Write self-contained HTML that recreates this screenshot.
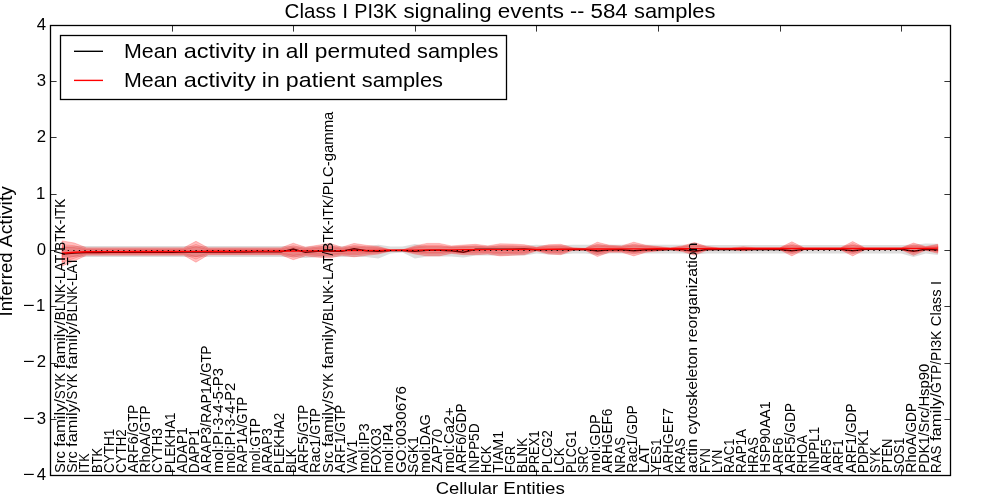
<!DOCTYPE html>
<html><head><meta charset="utf-8"><title>Class I PI3K signaling events</title>
<style>html,body{margin:0;padding:0;background:#fff;overflow:hidden}svg{display:block;will-change:transform}text{font-family:"Liberation Sans",sans-serif;fill:#000}</style></head><body>
<svg width="1000" height="500" viewBox="0 0 1000 500">
<rect width="1000" height="500" fill="#fff"/>
<polygon points="62.16,245.9 74.32,245.9 86.49,245.9 98.65,245.9 110.81,245.9 122.97,245.9 135.14,245.9 147.3,245.9 159.46,245.9 171.62,245.9 183.78,245.9 195.95,245.9 208.11,245.9 220.27,245.9 232.43,245.9 244.59,245.9 256.76,245.9 268.92,245.9 281.08,245.9 293.24,246.15 305.41,246.65 317.57,246.15 329.73,246.15 341.89,246.15 354.05,246.15 366.22,246.15 378.38,244.65 390.54,246.55 402.7,246.55 414.86,244.05 427.03,246.15 439.19,246.15 451.35,246.15 463.51,245.65 475.68,245.65 487.84,245.65 500,245.65 512.16,245.65 524.32,245.65 536.49,244.65 548.65,245.15 560.81,245.15 572.97,244.65 585.14,244.65 597.3,244.65 609.46,244.65 621.62,244.65 633.78,244.65 645.95,244.65 658.11,244.65 670.27,244.65 682.43,244.65 694.59,244.65 706.76,244.95 718.92,244.95 731.08,244.95 743.24,244.95 755.41,244.95 767.57,244.95 779.73,244.95 791.89,244.95 804.05,244.95 816.22,244.95 828.38,244.95 840.54,244.95 852.7,244.95 864.86,244.95 877.03,244.95 889.19,244.95 901.35,244.95 913.51,244.65 925.68,243.4 937.84,243.65 937.84,254.9 925.68,253.5 913.51,257 901.35,253.5 889.19,253.5 877.03,253.5 864.86,253.5 852.7,253.5 840.54,253.5 828.38,253.5 816.22,253.5 804.05,253.5 791.89,253.5 779.73,253.5 767.57,253.5 755.41,253.5 743.24,253.5 731.08,253.5 718.92,253.5 706.76,253.5 694.59,254.5 682.43,253.5 670.27,253.5 658.11,253.5 645.95,253.5 633.78,253.5 621.62,253.5 609.46,253.5 597.3,255 585.14,253.6 572.97,253.6 560.81,254.5 548.65,254.5 536.49,253.5 524.32,255.5 512.16,255.5 500,255.5 487.84,255.5 475.68,255.5 463.51,257.4 451.35,256.5 439.19,256.5 427.03,256.5 414.86,258.6 402.7,252.4 390.54,253.5 378.38,258.5 366.22,257 354.05,257 341.89,257 329.73,257 317.57,257 305.41,258 293.24,257 281.08,257 268.92,257 256.76,257 244.59,257 232.43,257 220.27,257 208.11,257 195.95,257 183.78,257 171.62,257 159.46,257 147.3,257 135.14,257 122.97,257 110.81,257 98.65,257 86.49,257 74.32,257 62.16,257" fill="#808080" fill-opacity="0.27"/>
<polyline points="62.16,254 74.32,253.1 86.49,252.5 98.65,252.46 110.81,252.42 122.97,252.38 135.14,252.34 147.3,252.29 159.46,252.25 171.62,252.21 183.78,252.17 195.95,252.13 208.11,252.09 220.27,252.05 232.43,252.01 244.59,251.96 256.76,251.92 268.92,251.88 281.08,251.84 293.24,249 305.41,252.3 317.57,251.42 329.73,251.33 341.89,251.24 354.05,248.75 366.22,250.76 378.38,251.3 390.54,250.58 402.7,250.49 414.86,251.4 427.03,250.33 439.19,250.26 451.35,250.7 463.51,252.2 475.68,249.3 487.84,249.3 500,249.2 512.16,249.1 524.32,249 536.49,249.68 548.65,249.6 560.81,249.53 572.97,249.45 585.14,249.38 597.3,251 609.46,249.86 621.62,249.82 633.78,250.8 645.95,249.74 658.11,249.7 670.27,249.66 682.43,249.62 694.59,251.25 706.76,249.54 718.92,249.5 731.08,249.49 743.24,249.48 755.41,249.46 767.57,249.45 779.73,249.44 791.89,250.8 804.05,249.42 816.22,249.41 828.38,249.39 840.54,249.38 852.7,250.8 864.86,249.36 877.03,249.35 889.19,249.34 901.35,249.32 913.51,251.25 925.68,249.3 937.84,250" fill="none" stroke="#000" stroke-width="1.39"/>
<polygon points="62.16,240.9 74.32,243 86.49,247.8 98.65,247.8 110.81,247.8 122.97,247.8 135.14,247.8 147.3,247.8 159.46,247.8 171.62,247.8 183.78,247.8 195.95,241.3 208.11,247.8 220.27,247.8 232.43,247.8 244.59,247.8 256.76,247.8 268.92,247.8 281.08,247.8 293.24,243.2 305.41,247.2 317.57,245.3 329.73,243.4 341.89,247.2 354.05,243.4 366.22,245.3 378.38,246.55 390.54,249.8 402.7,249.8 414.86,245.9 427.03,243.4 439.19,243.4 451.35,245.9 463.51,245.05 475.68,244.3 487.84,245.9 500,243.8 512.16,244.05 524.32,244.7 536.49,247.2 548.65,244.7 560.81,244.3 572.97,247.8 585.14,248.3 597.3,242.2 609.46,245.3 621.62,245.9 633.78,242.2 645.95,245.3 658.11,246.55 670.27,247.8 682.43,245.9 694.59,242.55 706.76,246.55 718.92,247.8 731.08,247.8 743.24,246.8 755.41,247.8 767.57,247.8 779.73,247.8 791.89,241.8 804.05,247.8 816.22,247.8 828.38,247.8 840.54,247.8 852.7,241.55 864.86,247.8 877.03,247.8 889.19,247.8 901.35,247.8 913.51,243.05 925.68,246.55 937.84,244.3 937.84,253.3 925.68,250.3 913.51,255.3 901.35,249.8 889.19,249.8 877.03,249.8 864.86,249.8 852.7,255.9 840.54,249.8 828.38,249.8 816.22,249.8 804.05,249.8 791.89,255.9 779.73,249.8 767.57,249.8 755.41,249.8 743.24,250.8 731.08,249.8 718.92,249.8 706.76,250.3 694.59,255.3 682.43,251.55 670.27,249.8 658.11,250.9 645.95,252.2 633.78,255.9 621.62,252.2 609.46,252.2 597.3,256.55 585.14,250.3 572.97,250.3 560.81,254.7 548.65,254.05 536.49,250.9 524.32,254.7 512.16,255.3 500,255.9 487.84,254.05 475.68,254.7 463.51,254.7 451.35,253.4 439.19,255.9 427.03,255.9 414.86,254.05 402.7,251.1 390.54,251.1 378.38,254.05 366.22,255.3 354.05,256.8 341.89,255.3 329.73,258.05 317.57,257.2 305.41,255.9 293.24,259.7 281.08,254.9 268.92,254.9 256.76,254.9 244.59,254.9 232.43,254.9 220.27,254.9 208.11,254.9 195.95,262.2 183.78,255.3 171.62,255.3 159.46,255.3 147.3,255.3 135.14,255.3 122.97,255.3 110.81,255.3 98.65,255.3 86.49,255.3 74.32,260.9 62.16,265.9" fill="#f00" fill-opacity="0.25" stroke="#f00" stroke-opacity="0.3" stroke-width="0.7"/>
<polygon points="62.16,244.65 74.32,245.69 86.49,248.93 98.65,248.93 110.81,248.93 122.97,248.93 135.14,248.93 147.3,248.93 159.46,248.93 171.62,248.93 183.78,248.93 195.95,244.44 208.11,248.87 220.27,248.87 232.43,248.87 244.59,248.87 256.76,248.87 268.92,248.87 281.08,248.87 293.24,245.68 305.41,248.51 317.57,247.09 329.73,245.6 341.89,248.41 354.05,245.41 366.22,246.8 378.38,247.68 390.54,250 402.7,250 414.86,247.12 427.03,245.28 439.19,245.28 451.35,247.03 463.51,246.5 475.68,245.86 487.84,247.12 500,245.62 512.16,245.74 524.32,246.2 536.49,247.76 548.65,246.1 560.81,245.86 572.97,248.18 585.14,248.6 597.3,244.35 609.46,246.34 621.62,246.84 633.78,244.26 645.95,246.34 658.11,247.2 670.27,248.1 682.43,246.75 694.59,244.46 706.76,247.11 718.92,248.1 731.08,248.1 743.24,247.4 755.41,248.1 767.57,248.1 779.73,248.1 791.89,243.92 804.05,248.1 816.22,248.1 828.38,248.1 840.54,248.1 852.7,243.7 864.86,248.1 877.03,248.1 889.19,248.1 901.35,248.1 913.51,244.89 925.68,247.11 937.84,245.65 937.84,251.95 925.68,249.74 913.51,253.46 901.35,249.5 889.19,249.5 877.03,249.5 864.86,249.5 852.7,253.75 840.54,249.5 828.38,249.5 816.22,249.5 804.05,249.5 791.89,253.79 779.73,249.5 767.57,249.5 755.41,249.5 743.24,250.2 731.08,249.5 718.92,249.5 706.76,249.74 694.59,253.39 682.43,250.7 670.27,249.5 658.11,250.25 645.95,251.16 633.78,253.84 621.62,251.26 609.46,251.16 597.3,254.4 585.14,250 572.97,249.93 560.81,253.14 548.65,252.65 536.49,250.34 524.32,253.2 512.16,253.61 500,254.09 487.84,252.83 475.68,253.14 463.51,253.25 451.35,252.28 439.19,254.03 427.03,254.03 414.86,252.83 402.7,250.91 390.54,250.91 378.38,252.93 366.22,253.8 354.05,254.79 341.89,254.09 329.73,255.85 317.57,255.41 305.41,254.59 293.24,257.22 281.08,253.84 268.92,253.84 256.76,253.84 244.59,253.84 232.43,253.84 220.27,253.84 208.11,253.84 195.95,259.06 183.78,254.18 171.62,254.18 159.46,254.18 147.3,254.18 135.14,254.18 122.97,254.18 110.81,254.18 98.65,254.18 86.49,254.18 74.32,258.22 62.16,262.15" fill="#f00" fill-opacity="0.1" stroke="#f00" stroke-opacity="0.3" stroke-width="0.7"/>
<polygon points="62.16,247.4 74.32,247.65 86.49,249.75 98.65,249.75 110.81,249.75 122.97,249.75 135.14,249.75 147.3,249.75 159.46,249.75 171.62,249.75 183.78,249.75 195.95,246.73 208.11,249.65 220.27,249.65 232.43,249.65 244.59,249.65 256.76,249.65 268.92,249.65 281.08,249.65 293.24,247.49 305.41,249.46 317.57,248.39 329.73,247.21 341.89,249.31 354.05,246.88 366.22,247.9 378.38,248.5 390.54,250.14 402.7,250.14 414.86,248.02 427.03,246.65 439.19,246.65 451.35,247.85 463.51,247.56 475.68,247 487.84,248.02 500,246.95 512.16,246.98 524.32,247.3 536.49,248.16 548.65,247.13 560.81,247 572.97,248.45 585.14,248.82 597.3,245.93 609.46,247.09 621.62,247.54 633.78,245.76 645.95,247.09 658.11,247.68 670.27,248.32 682.43,247.37 694.59,245.87 706.76,247.53 718.92,248.32 731.08,248.32 743.24,247.84 755.41,248.32 767.57,248.32 779.73,248.32 791.89,245.47 804.05,248.32 816.22,248.32 828.38,248.32 840.54,248.32 852.7,245.28 864.86,248.32 877.03,248.32 889.19,248.32 901.35,248.32 913.51,246.24 925.68,247.53 937.84,246.64 937.84,250.96 925.68,249.33 913.51,252.12 901.35,249.28 889.19,249.28 877.03,249.28 864.86,249.28 852.7,252.17 840.54,249.28 828.38,249.28 816.22,249.28 804.05,249.28 791.89,252.23 779.73,249.28 767.57,249.28 755.41,249.28 743.24,249.76 731.08,249.28 718.92,249.28 706.76,249.33 694.59,251.99 682.43,250.08 670.27,249.28 658.11,249.77 645.95,250.41 633.78,252.34 621.62,250.56 609.46,250.41 597.3,252.82 585.14,249.78 572.97,249.65 560.81,252 548.65,251.62 536.49,249.94 524.32,252.1 512.16,252.38 500,252.75 487.84,251.93 475.68,252 463.51,252.19 451.35,251.45 439.19,252.65 427.03,252.65 414.86,251.93 402.7,250.76 390.54,250.76 378.38,252.1 366.22,252.7 354.05,253.32 341.89,253.19 329.73,254.24 317.57,254.11 305.41,253.64 293.24,255.41 281.08,253.05 268.92,253.05 256.76,253.05 244.59,253.05 232.43,253.05 220.27,253.05 208.11,253.05 195.95,256.77 183.78,253.35 171.62,253.35 159.46,253.35 147.3,253.35 135.14,253.35 122.97,253.35 110.81,253.35 98.65,253.35 86.49,253.35 74.32,256.25 62.16,259.4" fill="#f00" fill-opacity="0.1" stroke="#f00" stroke-opacity="0.3" stroke-width="0.7"/>
<polyline points="62.16,253.2 74.32,252.3 86.49,251.7 98.65,251.66 110.81,251.62 122.97,251.58 135.14,251.54 147.3,251.49 159.46,251.45 171.62,251.41 183.78,251.37 195.95,251.33 208.11,251.29 220.27,251.25 232.43,251.21 244.59,251.16 256.76,251.12 268.92,251.08 281.08,251.04 293.24,251 305.41,250.91 317.57,250.82 329.73,250.73 341.89,250.64 354.05,250.55 366.22,250.46 378.38,250.37 390.54,250.28 402.7,250.19 414.86,250.1 427.03,250.03 439.19,249.96 451.35,249.89 463.51,249.81 475.68,249.74 487.84,249.67 500,249.6 512.16,249.53 524.32,249.45 536.49,249.38 548.65,249.3 560.81,249.22 572.97,249.15 585.14,249.07 597.3,249 609.46,248.96 621.62,248.92 633.78,248.88 645.95,248.84 658.11,248.8 670.27,248.76 682.43,248.72 694.59,248.68 706.76,248.64 718.92,248.6 731.08,248.59 743.24,248.58 755.41,248.56 767.57,248.55 779.73,248.54 791.89,248.53 804.05,248.52 816.22,248.51 828.38,248.49 840.54,248.48 852.7,248.47 864.86,248.46 877.03,248.45 889.19,248.44 901.35,248.42 913.51,248.41 925.68,248.4 937.84,248.1" fill="none" stroke="#f00" stroke-width="1.39"/>
<line x1="62.16" y1="250.5" x2="937.84" y2="250.5" stroke="#000" stroke-width="1.15" stroke-dasharray="1.25 4.306"/>
<g font-size="14.65">
<text transform="translate(65.4 473) rotate(-90)"><tspan x="0" textLength="21.9" lengthAdjust="spacingAndGlyphs">Src</tspan> <tspan x="26.28" textLength="47.8" lengthAdjust="spacingAndGlyphs">family/</tspan><tspan x="74.08" textLength="26.15" lengthAdjust="spacingAndGlyphs">SYK</tspan> <tspan x="104.61" textLength="47.8" lengthAdjust="spacingAndGlyphs">family/</tspan><tspan x="152.42" textLength="69.83" lengthAdjust="spacingAndGlyphs">BLNK-LAT/</tspan><tspan x="222.24" textLength="52.06" lengthAdjust="spacingAndGlyphs">BTK-ITK</tspan></text>
<text transform="translate(77.4 473) rotate(-90)"><tspan x="0" textLength="21.73" lengthAdjust="spacingAndGlyphs">Src</tspan> <tspan x="26.08" textLength="47.44" lengthAdjust="spacingAndGlyphs">family/</tspan><tspan x="73.53" textLength="25.96" lengthAdjust="spacingAndGlyphs">SYK</tspan> <tspan x="103.83" textLength="47.44" lengthAdjust="spacingAndGlyphs">family/</tspan><tspan x="151.28" textLength="64.71" lengthAdjust="spacingAndGlyphs">BLNK-LAT</tspan></text>
<text transform="translate(89.4 473) rotate(-90)"><tspan x="0" textLength="19.64" lengthAdjust="spacingAndGlyphs">ITK</tspan></text>
<text transform="translate(102.4 473) rotate(-90)"><tspan x="0" textLength="25.21" lengthAdjust="spacingAndGlyphs">BTK</tspan></text>
<text transform="translate(114.4 473) rotate(-90)"><tspan x="0" textLength="44.3" lengthAdjust="spacingAndGlyphs">CYTH1</tspan></text>
<text transform="translate(126.4 473) rotate(-90)"><tspan x="0" textLength="43.67" lengthAdjust="spacingAndGlyphs">CYTH2</tspan></text>
<text transform="translate(138.4 473) rotate(-90)"><tspan x="0" textLength="40.87" lengthAdjust="spacingAndGlyphs">ARF6/</tspan><tspan x="40.87" textLength="27.29" lengthAdjust="spacingAndGlyphs">GTP</tspan></text>
<text transform="translate(150.4 473) rotate(-90)"><tspan x="0" textLength="40.63" lengthAdjust="spacingAndGlyphs">RhoA/</tspan><tspan x="40.63" textLength="26.88" lengthAdjust="spacingAndGlyphs">GTP</tspan></text>
<text transform="translate(162.4 473) rotate(-90)"><tspan x="0" textLength="44.9" lengthAdjust="spacingAndGlyphs">CYTH3</tspan></text>
<text transform="translate(175.4 473) rotate(-90)"><tspan x="0" textLength="60.6" lengthAdjust="spacingAndGlyphs">PLEKHA1</tspan></text>
<text transform="translate(187.4 473) rotate(-90)"><tspan x="0" textLength="45.73" lengthAdjust="spacingAndGlyphs">ADAP1</tspan></text>
<text transform="translate(199.4 473) rotate(-90)"><tspan x="0" textLength="43.89" lengthAdjust="spacingAndGlyphs">DAPP1</tspan></text>
<text transform="translate(211.4 473) rotate(-90)"><tspan x="0" textLength="50.03" lengthAdjust="spacingAndGlyphs">ARAP3/</tspan><tspan x="50.03" textLength="50.16" lengthAdjust="spacingAndGlyphs">RAP1A/</tspan><tspan x="100.19" textLength="27.21" lengthAdjust="spacingAndGlyphs">GTP</tspan></text>
<text transform="translate(223.4 473) rotate(-90)"><tspan x="0" textLength="105.05" lengthAdjust="spacingAndGlyphs">mol:PI-3-4-5-P3</tspan></text>
<text transform="translate(235.4 473) rotate(-90)"><tspan x="0" textLength="90.2" lengthAdjust="spacingAndGlyphs">mol:PI-3-4-P2</tspan></text>
<text transform="translate(247.4 473) rotate(-90)"><tspan x="0" textLength="49.34" lengthAdjust="spacingAndGlyphs">RAP1A/</tspan><tspan x="49.34" textLength="26.77" lengthAdjust="spacingAndGlyphs">GTP</tspan></text>
<text transform="translate(260.4 473) rotate(-90)"><tspan x="0" textLength="55.07" lengthAdjust="spacingAndGlyphs">mol:GTP</tspan></text>
<text transform="translate(272.4 473) rotate(-90)"><tspan x="0" textLength="44.94" lengthAdjust="spacingAndGlyphs">ARAP3</tspan></text>
<text transform="translate(284.4 473) rotate(-90)"><tspan x="0" textLength="60.17" lengthAdjust="spacingAndGlyphs">PLEKHA2</tspan></text>
<text transform="translate(296.4 473) rotate(-90)"><tspan x="0" textLength="24.4" lengthAdjust="spacingAndGlyphs">BLK</tspan></text>
<text transform="translate(308.4 473) rotate(-90)"><tspan x="0" textLength="40.75" lengthAdjust="spacingAndGlyphs">ARF5/</tspan><tspan x="40.75" textLength="27.29" lengthAdjust="spacingAndGlyphs">GTP</tspan></text>
<text transform="translate(320.4 473) rotate(-90)"><tspan x="0" textLength="38.34" lengthAdjust="spacingAndGlyphs">Rac1/</tspan><tspan x="38.34" textLength="26.58" lengthAdjust="spacingAndGlyphs">GTP</tspan></text>
<text transform="translate(333.4 473) rotate(-90)"><tspan x="0" textLength="21.81" lengthAdjust="spacingAndGlyphs">Src</tspan> <tspan x="26.17" textLength="47.61" lengthAdjust="spacingAndGlyphs">family/</tspan><tspan x="73.78" textLength="26.05" lengthAdjust="spacingAndGlyphs">SYK</tspan> <tspan x="104.19" textLength="47.61" lengthAdjust="spacingAndGlyphs">family/</tspan><tspan x="151.79" textLength="69.54" lengthAdjust="spacingAndGlyphs">BLNK-LAT/</tspan><tspan x="221.33" textLength="56.46" lengthAdjust="spacingAndGlyphs">BTK-ITK/</tspan><tspan x="277.79" textLength="83.62" lengthAdjust="spacingAndGlyphs">PLC-gamma</tspan></text>
<text transform="translate(345.4 473) rotate(-90)"><tspan x="0" textLength="40.87" lengthAdjust="spacingAndGlyphs">ARF1/</tspan><tspan x="40.87" textLength="27.29" lengthAdjust="spacingAndGlyphs">GTP</tspan></text>
<text transform="translate(357.4 473) rotate(-90)"><tspan x="0" textLength="33.07" lengthAdjust="spacingAndGlyphs">VAV1</tspan></text>
<text transform="translate(369.4 473) rotate(-90)"><tspan x="0" textLength="49.69" lengthAdjust="spacingAndGlyphs">mol:IP3</tspan></text>
<text transform="translate(381.4 473) rotate(-90)"><tspan x="0" textLength="44.95" lengthAdjust="spacingAndGlyphs">FOXO3</tspan></text>
<text transform="translate(393.4 473) rotate(-90)"><tspan x="0" textLength="49.11" lengthAdjust="spacingAndGlyphs">mol:IP4</tspan></text>
<text transform="translate(406.4 473) rotate(-90)"><tspan x="0" textLength="86.99" lengthAdjust="spacingAndGlyphs">GO:0030676</tspan></text>
<text transform="translate(418.4 473) rotate(-90)"><tspan x="0" textLength="36.58" lengthAdjust="spacingAndGlyphs">SGK1</tspan></text>
<text transform="translate(430.4 473) rotate(-90)"><tspan x="0" textLength="58.84" lengthAdjust="spacingAndGlyphs">mol:DAG</tspan></text>
<text transform="translate(442.4 473) rotate(-90)"><tspan x="0" textLength="44.06" lengthAdjust="spacingAndGlyphs">ZAP70</tspan></text>
<text transform="translate(454.4 473) rotate(-90)"><tspan x="0" textLength="65.68" lengthAdjust="spacingAndGlyphs">mol:Ca2+</tspan></text>
<text transform="translate(466.4 473) rotate(-90)"><tspan x="0" textLength="40.04" lengthAdjust="spacingAndGlyphs">ARF6/</tspan><tspan x="40.04" textLength="29.45" lengthAdjust="spacingAndGlyphs">GDP</tspan></text>
<text transform="translate(479.4 473) rotate(-90)"><tspan x="0" textLength="49.71" lengthAdjust="spacingAndGlyphs">INPP5D</tspan></text>
<text transform="translate(491.4 473) rotate(-90)"><tspan x="0" textLength="27.4" lengthAdjust="spacingAndGlyphs">HCK</tspan></text>
<text transform="translate(503.4 473) rotate(-90)"><tspan x="0" textLength="42.26" lengthAdjust="spacingAndGlyphs">TIAM1</tspan></text>
<text transform="translate(515.4 473) rotate(-90)"><tspan x="0" textLength="27.22" lengthAdjust="spacingAndGlyphs">FGR</tspan></text>
<text transform="translate(527.4 473) rotate(-90)"><tspan x="0" textLength="35.11" lengthAdjust="spacingAndGlyphs">BLNK</tspan></text>
<text transform="translate(539.4 473) rotate(-90)"><tspan x="0" textLength="42.59" lengthAdjust="spacingAndGlyphs">PREX1</tspan></text>
<text transform="translate(552.4 473) rotate(-90)"><tspan x="0" textLength="42.75" lengthAdjust="spacingAndGlyphs">PLCG2</tspan></text>
<text transform="translate(564.4 473) rotate(-90)"><tspan x="0" textLength="25.59" lengthAdjust="spacingAndGlyphs">LCK</tspan></text>
<text transform="translate(576.4 473) rotate(-90)"><tspan x="0" textLength="42.36" lengthAdjust="spacingAndGlyphs">PLCG1</tspan></text>
<text transform="translate(588.4 473) rotate(-90)"><tspan x="0" textLength="26.85" lengthAdjust="spacingAndGlyphs">SRC</tspan></text>
<text transform="translate(600.4 473) rotate(-90)"><tspan x="0" textLength="58.76" lengthAdjust="spacingAndGlyphs">mol:GDP</tspan></text>
<text transform="translate(612.4 473) rotate(-90)"><tspan x="0" textLength="64.46" lengthAdjust="spacingAndGlyphs">ARHGEF6</tspan></text>
<text transform="translate(625.4 473) rotate(-90)"><tspan x="0" textLength="36" lengthAdjust="spacingAndGlyphs">NRAS</tspan></text>
<text transform="translate(637.4 473) rotate(-90)"><tspan x="0" textLength="38.41" lengthAdjust="spacingAndGlyphs">Rac1/</tspan><tspan x="38.41" textLength="29.33" lengthAdjust="spacingAndGlyphs">GDP</tspan></text>
<text transform="translate(649.4 473) rotate(-90)"><tspan x="0" textLength="28.26" lengthAdjust="spacingAndGlyphs">LAT</tspan></text>
<text transform="translate(661.4 473) rotate(-90)"><tspan x="0" textLength="34.66" lengthAdjust="spacingAndGlyphs">YES1</tspan></text>
<text transform="translate(673.4 473) rotate(-90)"><tspan x="0" textLength="64.86" lengthAdjust="spacingAndGlyphs">ARHGEF7</tspan></text>
<text transform="translate(685.4 473) rotate(-90)"><tspan x="0" textLength="34.84" lengthAdjust="spacingAndGlyphs">KRAS</tspan></text>
<text transform="translate(697.4 473) rotate(-90)"><tspan x="0" textLength="34.12" lengthAdjust="spacingAndGlyphs">actin</tspan> <tspan x="38.47" textLength="87.61" lengthAdjust="spacingAndGlyphs">cytoskeleton</tspan> <tspan x="130.42" textLength="100.01" lengthAdjust="spacingAndGlyphs">reorganization</tspan></text>
<text transform="translate(710.4 473) rotate(-90)"><tspan x="0" textLength="24.75" lengthAdjust="spacingAndGlyphs">FYN</tspan></text>
<text transform="translate(722.4 473) rotate(-90)"><tspan x="0" textLength="23.06" lengthAdjust="spacingAndGlyphs">LYN</tspan></text>
<text transform="translate(734.4 473) rotate(-90)"><tspan x="0" textLength="34.31" lengthAdjust="spacingAndGlyphs">RAC1</tspan></text>
<text transform="translate(746.4 473) rotate(-90)"><tspan x="0" textLength="44.06" lengthAdjust="spacingAndGlyphs">RAP1A</tspan></text>
<text transform="translate(758.4 473) rotate(-90)"><tspan x="0" textLength="35.9" lengthAdjust="spacingAndGlyphs">HRAS</tspan></text>
<text transform="translate(770.4 473) rotate(-90)"><tspan x="0" textLength="71.67" lengthAdjust="spacingAndGlyphs">HSP90AA1</tspan></text>
<text transform="translate(783.4 473) rotate(-90)"><tspan x="0" textLength="35.41" lengthAdjust="spacingAndGlyphs">ARF6</tspan></text>
<text transform="translate(795.4 473) rotate(-90)"><tspan x="0" textLength="40.28" lengthAdjust="spacingAndGlyphs">ARF5/</tspan><tspan x="40.28" textLength="29.71" lengthAdjust="spacingAndGlyphs">GDP</tspan></text>
<text transform="translate(807.4 473) rotate(-90)"><tspan x="0" textLength="38.01" lengthAdjust="spacingAndGlyphs">RHOA</tspan></text>
<text transform="translate(819.4 473) rotate(-90)"><tspan x="0" textLength="46.22" lengthAdjust="spacingAndGlyphs">INPPL1</tspan></text>
<text transform="translate(831.4 473) rotate(-90)"><tspan x="0" textLength="34.14" lengthAdjust="spacingAndGlyphs">ARF5</tspan></text>
<text transform="translate(843.4 473) rotate(-90)"><tspan x="0" textLength="33.7" lengthAdjust="spacingAndGlyphs">ARF1</tspan></text>
<text transform="translate(856.4 473) rotate(-90)"><tspan x="0" textLength="40.04" lengthAdjust="spacingAndGlyphs">ARF1/</tspan><tspan x="40.04" textLength="29.45" lengthAdjust="spacingAndGlyphs">GDP</tspan></text>
<text transform="translate(868.4 473) rotate(-90)"><tspan x="0" textLength="43.65" lengthAdjust="spacingAndGlyphs">PDPK1</tspan></text>
<text transform="translate(880.4 473) rotate(-90)"><tspan x="0" textLength="25.72" lengthAdjust="spacingAndGlyphs">SYK</tspan></text>
<text transform="translate(892.4 473) rotate(-90)"><tspan x="0" textLength="34.45" lengthAdjust="spacingAndGlyphs">PTEN</tspan></text>
<text transform="translate(904.4 473) rotate(-90)"><tspan x="0" textLength="35.52" lengthAdjust="spacingAndGlyphs">SOS1</tspan></text>
<text transform="translate(916.4 473) rotate(-90)"><tspan x="0" textLength="40.47" lengthAdjust="spacingAndGlyphs">RhoA/</tspan><tspan x="40.47" textLength="29.49" lengthAdjust="spacingAndGlyphs">GDP</tspan></text>
<text transform="translate(929.4 473) rotate(-90)"><tspan x="0" textLength="40.57" lengthAdjust="spacingAndGlyphs">PDK1/</tspan><tspan x="40.57" textLength="25.83" lengthAdjust="spacingAndGlyphs">Src/</tspan><tspan x="66.4" textLength="42.89" lengthAdjust="spacingAndGlyphs">Hsp90</tspan></text>
<text transform="translate(941.4 473) rotate(-90)"><tspan x="0" textLength="27.57" lengthAdjust="spacingAndGlyphs">RAS</tspan> <tspan x="31.98" textLength="48.1" lengthAdjust="spacingAndGlyphs">family/</tspan><tspan x="80.08" textLength="31.98" lengthAdjust="spacingAndGlyphs">GTP/</tspan><tspan x="112.06" textLength="30.34" lengthAdjust="spacingAndGlyphs">PI3K</tspan> <tspan x="146.81" textLength="36.77" lengthAdjust="spacingAndGlyphs">Class</tspan> <tspan x="187.99" textLength="4.03" lengthAdjust="spacingAndGlyphs">I</tspan></text>
</g>
<rect x="50.5" y="25.5" width="900" height="450" fill="none" stroke="#000" stroke-width="1.3"/>
<path d="M50.5 475.5 v-6.1 M50.5 25.5 v6.1 M172.5 475.5 v-6.1 M172.5 25.5 v6.1 M293.5 475.5 v-6.1 M293.5 25.5 v6.1 M415.5 475.5 v-6.1 M415.5 25.5 v6.1 M536.5 475.5 v-6.1 M536.5 25.5 v6.1 M658.5 475.5 v-6.1 M658.5 25.5 v6.1 M780.5 475.5 v-6.1 M780.5 25.5 v6.1 M901.5 475.5 v-6.1 M901.5 25.5 v6.1 M50.5 475.5 h6.1 M950.5 475.5 h-6.1 M50.5 419.5 h6.1 M950.5 419.5 h-6.1 M50.5 363.5 h6.1 M950.5 363.5 h-6.1 M50.5 306.5 h6.1 M950.5 306.5 h-6.1 M50.5 250.5 h6.1 M950.5 250.5 h-6.1 M50.5 194.5 h6.1 M950.5 194.5 h-6.1 M50.5 137.5 h6.1 M950.5 137.5 h-6.1 M50.5 81.5 h6.1 M950.5 81.5 h-6.1 M50.5 25.5 h6.1 M950.5 25.5 h-6.1" stroke="#000" stroke-width="0.8" fill="none"/>
<g font-size="16.75" text-anchor="end">
<text y="479.8"><tspan x="22.9" text-anchor="start" textLength="11.8" lengthAdjust="spacingAndGlyphs">−</tspan><tspan x="46">4</tspan></text>
<text y="423.55"><tspan x="22.9" text-anchor="start" textLength="11.8" lengthAdjust="spacingAndGlyphs">−</tspan><tspan x="46">3</tspan></text>
<text y="367.3"><tspan x="22.9" text-anchor="start" textLength="11.8" lengthAdjust="spacingAndGlyphs">−</tspan><tspan x="46">2</tspan></text>
<text y="311.05"><tspan x="22.9" text-anchor="start" textLength="11.8" lengthAdjust="spacingAndGlyphs">−</tspan><tspan x="45.4">1</tspan></text>
<text x="46" y="254.8">0</text>
<text x="45.4" y="198.55">1</text>
<text x="46" y="142.3">2</text>
<text x="46" y="86.05">3</text>
<text x="46" y="29.8">4</text>
</g>
<text y="17.6" font-size="21.1"><tspan x="284.57" textLength="51.41" lengthAdjust="spacingAndGlyphs">Class</tspan> <tspan x="342.21" textLength="5.86" lengthAdjust="spacingAndGlyphs">I</tspan> <tspan x="354.3" textLength="42.87" lengthAdjust="spacingAndGlyphs">PI3K</tspan> <tspan x="403.4" textLength="88.17" lengthAdjust="spacingAndGlyphs">signaling</tspan> <tspan x="497.8" textLength="66.07" lengthAdjust="spacingAndGlyphs">events</tspan> <tspan x="570.1" textLength="14.17" lengthAdjust="spacingAndGlyphs">--</tspan> <tspan x="590.49" textLength="37.25" lengthAdjust="spacingAndGlyphs">584</tspan> <tspan x="633.97" textLength="81.46" lengthAdjust="spacingAndGlyphs">samples</tspan></text>
<text y="494" font-size="17.1"><tspan x="435.7" textLength="62.49" lengthAdjust="spacingAndGlyphs">Cellular</tspan> <tspan x="503.39" textLength="61.5" lengthAdjust="spacingAndGlyphs">Entities</tspan></text>
<text transform="translate(12 316.5) rotate(-90)" font-size="17.59"><tspan x="0" textLength="64.16" lengthAdjust="spacingAndGlyphs">Inferred</tspan> <tspan x="69.31" textLength="61.09" lengthAdjust="spacingAndGlyphs">Activity</tspan></text>
<rect x="60.5" y="35.5" width="446" height="64" fill="#fff" stroke="#000" stroke-width="1.3"/>
<line x1="74" y1="51.3" x2="103" y2="51.3" stroke="#000" stroke-width="1.39"/>
<line x1="74" y1="80.4" x2="103" y2="80.4" stroke="#f00" stroke-width="1.39"/>
<text y="58" font-size="21.1"><tspan x="124" textLength="53.48" lengthAdjust="spacingAndGlyphs">Mean</tspan> <tspan x="183.69" textLength="71.99" lengthAdjust="spacingAndGlyphs">activity</tspan> <tspan x="261.89" textLength="17.78" lengthAdjust="spacingAndGlyphs">in</tspan> <tspan x="285.89" textLength="22.78" lengthAdjust="spacingAndGlyphs">all</tspan> <tspan x="314.88" textLength="95.99" lengthAdjust="spacingAndGlyphs">permuted</tspan> <tspan x="417.08" textLength="81.25" lengthAdjust="spacingAndGlyphs">samples</tspan></text>
<text y="86.8" font-size="21.1"><tspan x="124" textLength="53.48" lengthAdjust="spacingAndGlyphs">Mean</tspan> <tspan x="183.69" textLength="71.99" lengthAdjust="spacingAndGlyphs">activity</tspan> <tspan x="261.89" textLength="17.78" lengthAdjust="spacingAndGlyphs">in</tspan> <tspan x="285.89" textLength="69.68" lengthAdjust="spacingAndGlyphs">patient</tspan> <tspan x="361.78" textLength="81.25" lengthAdjust="spacingAndGlyphs">samples</tspan></text>
</svg></body></html>
